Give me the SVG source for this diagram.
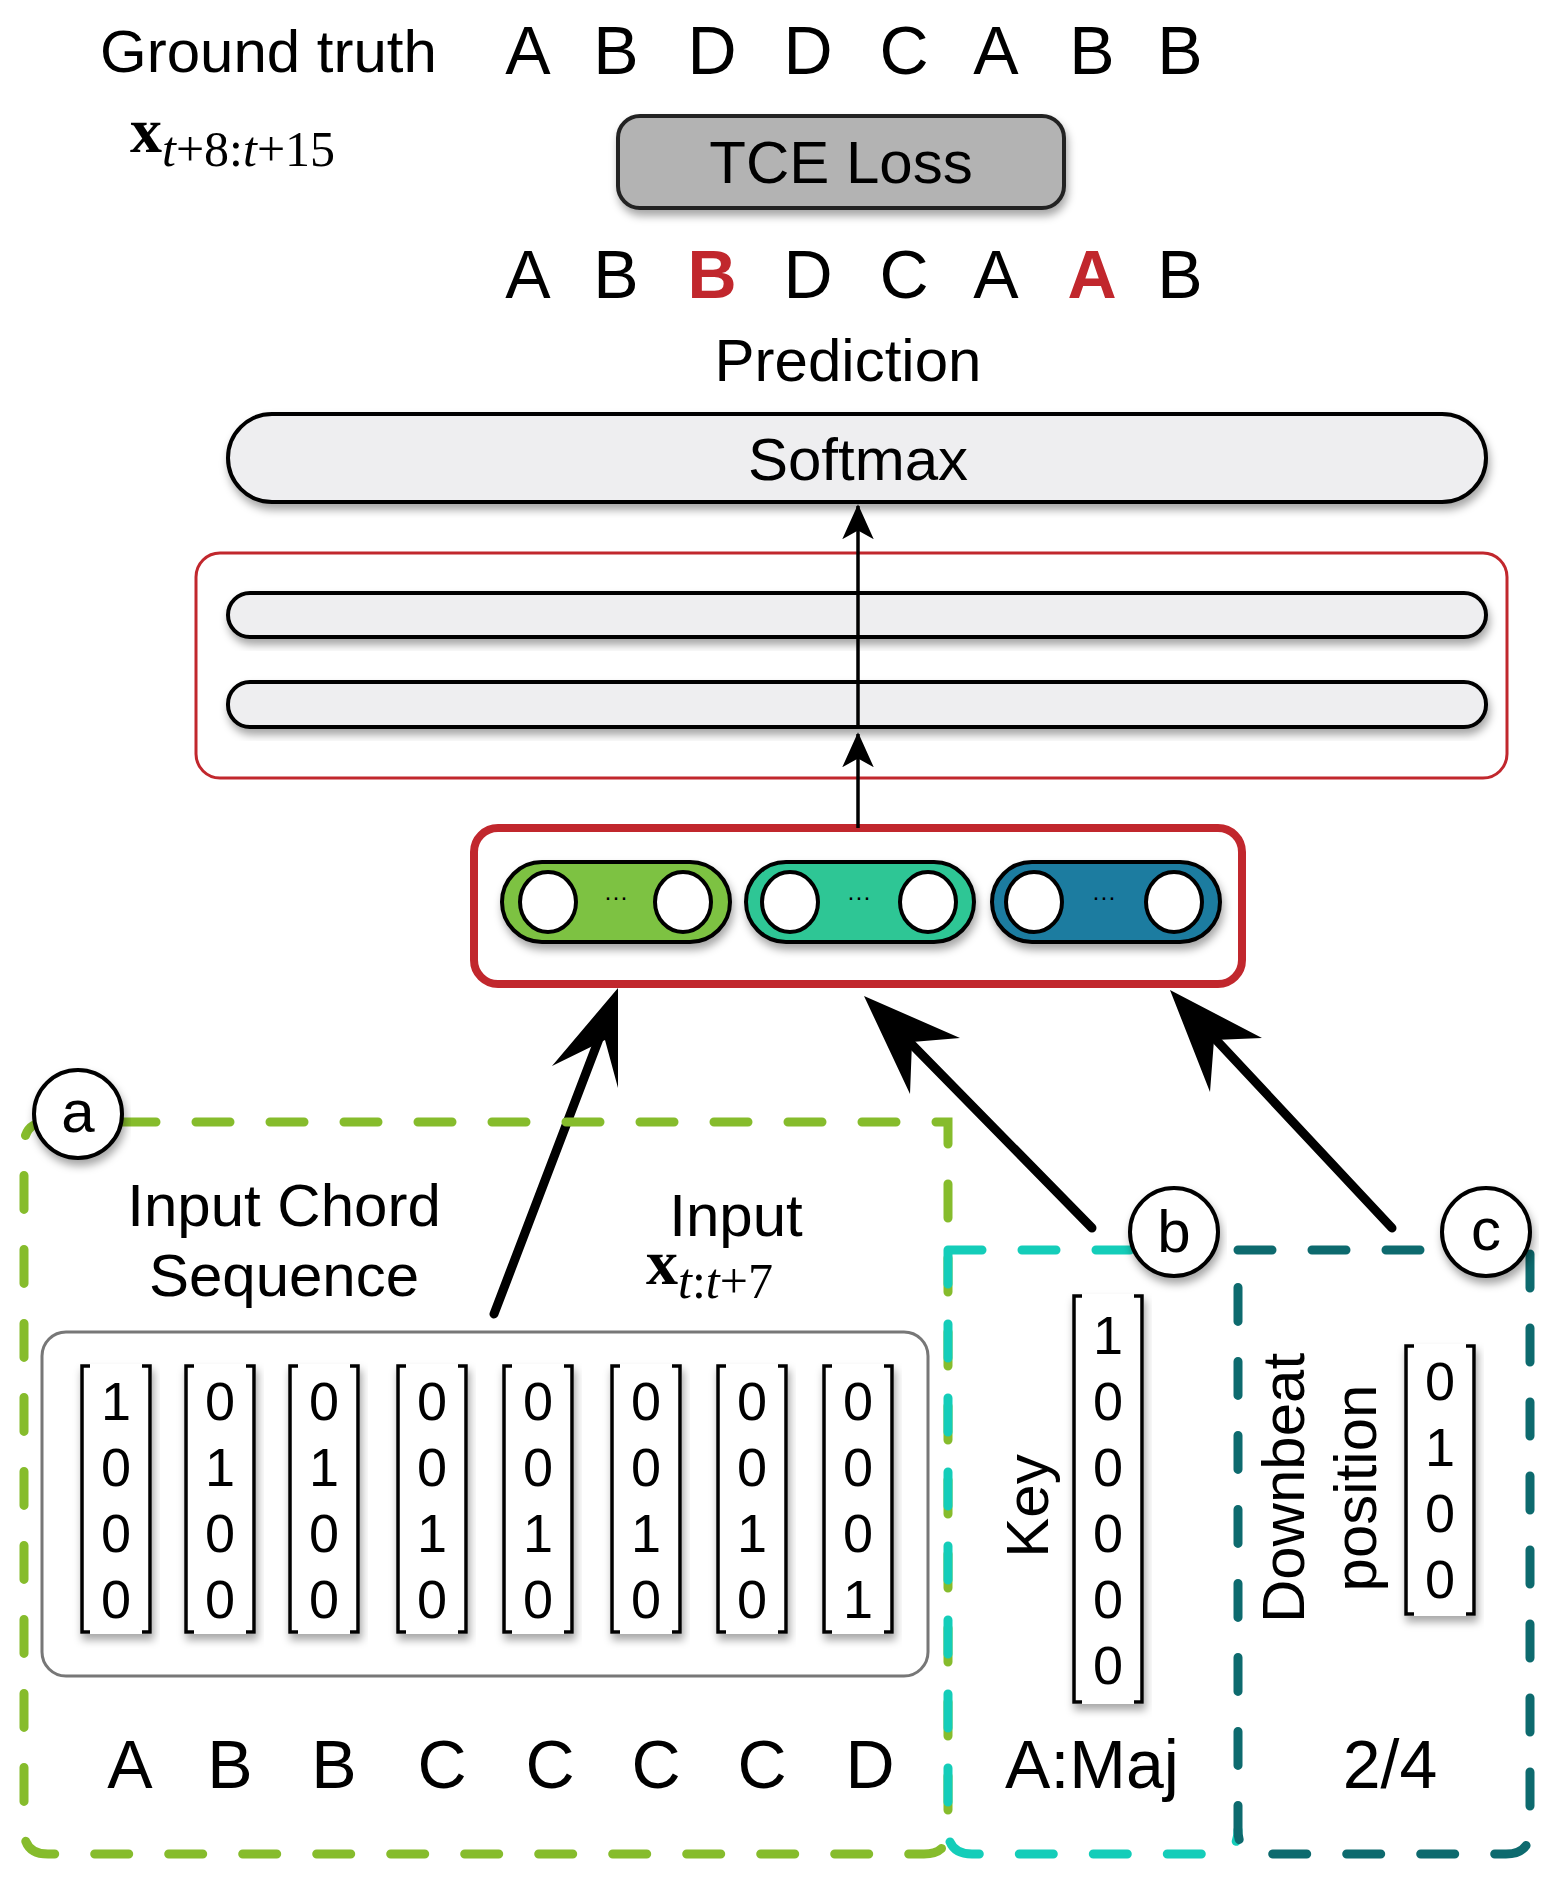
<svg xmlns="http://www.w3.org/2000/svg" width="1558" height="1877" viewBox="0 0 1558 1877">
<style>
text{font-family:"Liberation Sans",Arial,sans-serif;fill:#000}
.big{font-size:68px;text-anchor:middle}
.lab{font-size:60px;text-anchor:middle}
.dig{font-size:54px;text-anchor:middle}
.red{fill:#c1272d;font-weight:bold}
.math{font-family:"Liberation Serif","DejaVu Serif",serif;font-style:italic}
.bar{fill:#eeeef0;stroke:#000;stroke-width:4}
.circ{fill:#fff;stroke:#000;stroke-width:4}
.br{fill:none;stroke:#000;stroke-width:3.5}
.arr{stroke:#000;stroke-width:9;stroke-linecap:round;fill:none}
.dash{fill:none;stroke-width:9;stroke-dasharray:34,40;stroke-linecap:round}
</style>
<defs>
<filter id="sh" x="-10%" y="-20%" width="120%" height="150%"><feDropShadow dx="2" dy="6" stdDeviation="4" flood-color="#000" flood-opacity="0.35"/></filter>
<marker id="bh" viewBox="0 0 20 20" refX="19" refY="10" markerWidth="10" markerHeight="10" orient="auto"><path d="M0,1 L20,10 L0,19 L5,10 Z" fill="#000"/></marker>
</defs>

<g id="ground-truth">
<text x="100" y="72" style="font-size:60px">Ground truth</text>
<g class="big"><text x="528" y="74">A</text><text x="616" y="74">B</text><text x="712" y="74">D</text><text x="808" y="74">D</text><text x="904" y="74">C</text><text x="996" y="74">A</text><text x="1092" y="74">B</text><text x="1180" y="74">B</text></g>
<text x="130" y="152" class="math" style="font-size:64px;font-style:normal;font-weight:bold">x</text>
<text x="162" y="166" class="math" style="font-size:50px">t<tspan font-style="normal">+8:</tspan>t<tspan font-style="normal">+15</tspan></text>
</g>

<g id="tce-loss">
<rect x="618" y="116" width="446" height="92" rx="22" fill="#b3b3b3" stroke="#222" stroke-width="4" filter="url(#sh)"/>
<text x="841" y="183" class="lab">TCE Loss</text>
</g>

<g id="prediction">
<g class="big"><text x="528" y="298">A</text><text x="616" y="298">B</text><text x="712" y="298" class="red">B</text><text x="808" y="298">D</text><text x="904" y="298">C</text><text x="996" y="298">A</text><text x="1092" y="298" class="red">A</text><text x="1180" y="298">B</text></g>
<text x="848" y="381" class="lab">Prediction</text>
</g>

<g id="softmax">
<rect x="228" y="414" width="1258" height="88" rx="44" class="bar" filter="url(#sh)"/>
<text x="858" y="480" class="lab">Softmax</text>
</g>

<g id="hidden-layers">
<rect x="196" y="553" width="1311" height="225" rx="24" fill="none" stroke="#c1272d" stroke-width="3"/>
<rect x="228" y="593" width="1258" height="44" rx="22" class="bar" filter="url(#sh)"/>
<rect x="228" y="682" width="1258" height="45" rx="22" class="bar" filter="url(#sh)"/>
</g>

<g id="embedding">
<rect x="474" y="828" width="768" height="156" rx="24" fill="#fff" stroke="#c1272d" stroke-width="8"/>
<rect x="502" y="862" width="228" height="80" rx="40" fill="#7dc242" stroke="#000" stroke-width="4" filter="url(#sh)"/>
<ellipse cx="548" cy="902" rx="28" ry="30" class="circ"/><ellipse cx="683" cy="902" rx="28" ry="30" class="circ"/>
<text x="616" y="905" style="font-size:24px" text-anchor="middle">···</text>
<rect x="746" y="862" width="228" height="80" rx="40" fill="#2ec695" stroke="#000" stroke-width="4" filter="url(#sh)"/>
<ellipse cx="790" cy="902" rx="28" ry="30" class="circ"/><ellipse cx="928" cy="902" rx="28" ry="30" class="circ"/>
<text x="859" y="905" style="font-size:24px" text-anchor="middle">···</text>
<rect x="992" y="862" width="228" height="80" rx="40" fill="#1e7ca0" stroke="#000" stroke-width="4" filter="url(#sh)"/>
<ellipse cx="1034" cy="902" rx="28" ry="30" class="circ"/><ellipse cx="1174" cy="902" rx="28" ry="30" class="circ"/>
<text x="1104" y="905" style="font-size:24px" text-anchor="middle">···</text>
</g>

<g id="connectors">
<line x1="858" y1="828" x2="858" y2="734" stroke="#000" stroke-width="3.5" marker-end="url(#bh)"/>
<line x1="858" y1="727" x2="858" y2="506" stroke="#000" stroke-width="3.5" marker-end="url(#bh)"/>
<line x1="494" y1="1314" x2="610" y2="1010" class="arr"/>
<path d="M618,988 L618,1088 L605,1040 L552,1066 Z" fill="#000"/>
<line x1="1092" y1="1228" x2="884" y2="1016" class="arr"/>
<path d="M864,996 L960,1038 L912,1042 L910,1094 Z" fill="#000"/>
<line x1="1392" y1="1228" x2="1190" y2="1012" class="arr"/>
<path d="M1170,990 L1262,1038 L1214,1040 L1210,1092 Z" fill="#000"/>
</g>

<g id="group-a">
<path d="M48,1122 H948 V1830 Q948,1854 924,1854 H48 Q24,1854 24,1830 V1146 Q24,1122 48,1122 Z" class="dash" stroke="#86bc2c"/>
<circle cx="78" cy="1114" r="44" fill="#fff" stroke="#000" stroke-width="4" filter="url(#sh)"/>
<text x="78" y="1132" class="lab">a</text>
<text x="284" y="1226" class="lab">Input Chord</text>
<text x="284" y="1296" class="lab">Sequence</text>
<text x="736" y="1236" class="lab">Input</text>
<text x="646" y="1284" class="math" style="font-size:64px;font-style:normal;font-weight:bold">x</text>
<text x="678" y="1298" class="math" style="font-size:50px">t<tspan font-style="normal">:</tspan>t<tspan font-style="normal">+7</tspan></text>
<rect x="42" y="1332" width="886" height="344" rx="24" fill="none" stroke="#777" stroke-width="3"/>
<g class="dig">
<g transform="translate(116,0)"><rect x="-36" y="1364" width="72" height="270" fill="#fff" filter="url(#sh)"/><path class="br" d="M-26,1366 H-34 V1632 H-26 M26,1366 H34 V1632 H26"/><text y="1420">1</text><text y="1486">0</text><text y="1552">0</text><text y="1618">0</text></g>
<g transform="translate(220,0)"><rect x="-36" y="1364" width="72" height="270" fill="#fff" filter="url(#sh)"/><path class="br" d="M-26,1366 H-34 V1632 H-26 M26,1366 H34 V1632 H26"/><text y="1420">0</text><text y="1486">1</text><text y="1552">0</text><text y="1618">0</text></g>
<g transform="translate(324,0)"><rect x="-36" y="1364" width="72" height="270" fill="#fff" filter="url(#sh)"/><path class="br" d="M-26,1366 H-34 V1632 H-26 M26,1366 H34 V1632 H26"/><text y="1420">0</text><text y="1486">1</text><text y="1552">0</text><text y="1618">0</text></g>
<g transform="translate(432,0)"><rect x="-36" y="1364" width="72" height="270" fill="#fff" filter="url(#sh)"/><path class="br" d="M-26,1366 H-34 V1632 H-26 M26,1366 H34 V1632 H26"/><text y="1420">0</text><text y="1486">0</text><text y="1552">1</text><text y="1618">0</text></g>
<g transform="translate(538,0)"><rect x="-36" y="1364" width="72" height="270" fill="#fff" filter="url(#sh)"/><path class="br" d="M-26,1366 H-34 V1632 H-26 M26,1366 H34 V1632 H26"/><text y="1420">0</text><text y="1486">0</text><text y="1552">1</text><text y="1618">0</text></g>
<g transform="translate(646,0)"><rect x="-36" y="1364" width="72" height="270" fill="#fff" filter="url(#sh)"/><path class="br" d="M-26,1366 H-34 V1632 H-26 M26,1366 H34 V1632 H26"/><text y="1420">0</text><text y="1486">0</text><text y="1552">1</text><text y="1618">0</text></g>
<g transform="translate(752,0)"><rect x="-36" y="1364" width="72" height="270" fill="#fff" filter="url(#sh)"/><path class="br" d="M-26,1366 H-34 V1632 H-26 M26,1366 H34 V1632 H26"/><text y="1420">0</text><text y="1486">0</text><text y="1552">1</text><text y="1618">0</text></g>
<g transform="translate(858,0)"><rect x="-36" y="1364" width="72" height="270" fill="#fff" filter="url(#sh)"/><path class="br" d="M-26,1366 H-34 V1632 H-26 M26,1366 H34 V1632 H26"/><text y="1420">0</text><text y="1486">0</text><text y="1552">0</text><text y="1618">1</text></g>
</g>
<g class="big"><text x="130" y="1788">A</text><text x="230" y="1788">B</text><text x="334" y="1788">B</text><text x="442" y="1788">C</text><text x="550" y="1788">C</text><text x="656" y="1788">C</text><text x="762" y="1788">C</text><text x="870" y="1788">D</text></g>
</g>

<g id="group-b">
<path d="M948,1250 H1238 M948,1250 V1830 Q948,1854 972,1854 H1214 Q1238,1854 1238,1830" class="dash" stroke="#14cdb9"/>
<circle cx="1174" cy="1232" r="44" fill="#fff" stroke="#000" stroke-width="4" filter="url(#sh)"/>
<text x="1174" y="1252" class="lab">b</text>
<text transform="translate(1048,1506) rotate(-90)" class="lab">Key</text>
<g class="dig" transform="translate(1108,0)"><rect x="-36" y="1294" width="72" height="410" fill="#fff" filter="url(#sh)"/><path class="br" d="M-26,1296 H-34 V1702 H-26 M26,1296 H34 V1702 H26"/><text y="1354">1</text><text y="1420">0</text><text y="1486">0</text><text y="1552">0</text><text y="1618">0</text><text y="1684">0</text></g>
<text x="1092" y="1788" class="big">A:Maj</text>
</g>

<g id="group-c">
<path d="M1238,1250 H1530 V1830 Q1530,1854 1506,1854 H1262 Q1238,1854 1238,1830 V1250" class="dash" stroke="#0d6a6e"/>
<circle cx="1486" cy="1232" r="44" fill="#fff" stroke="#000" stroke-width="4" filter="url(#sh)"/>
<text x="1486" y="1250" class="lab">c</text>
<text transform="translate(1304,1488) rotate(-90)" class="lab">Downbeat</text>
<text transform="translate(1376,1488) rotate(-90)" class="lab">position</text>
<g class="dig" transform="translate(1440,0)"><rect x="-36" y="1344" width="72" height="272" fill="#fff" filter="url(#sh)"/><path class="br" d="M-26,1346 H-34 V1614 H-26 M26,1346 H34 V1614 H26"/><text y="1400">0</text><text y="1466">1</text><text y="1532">0</text><text y="1598">0</text></g>
<text x="1390" y="1788" class="big">2/4</text>
</g>
</svg>
